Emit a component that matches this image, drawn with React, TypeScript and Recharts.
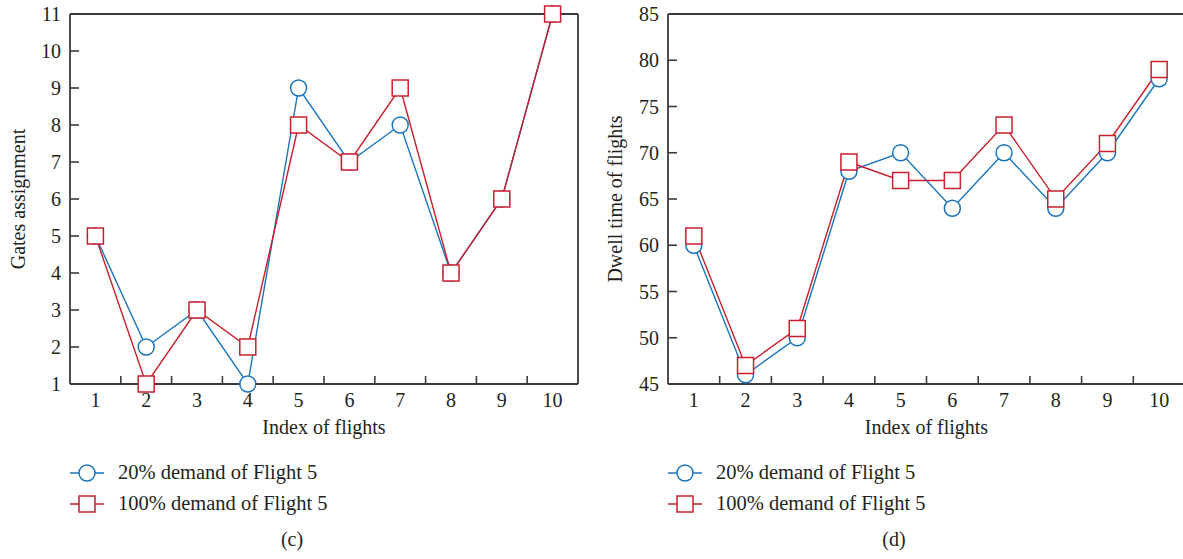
import { LineChart, Line, XAxis, YAxis, ReferenceLine, Legend } from 'recharts'

const flightIndex = [1, 2, 3, 4, 5, 6, 7, 8, 9, 10]
const gates20 = [5, 2, 3, 1, 9, 7, 8, 4, 6, 11]
const gates100 = [5, 1, 3, 2, 8, 7, 9, 4, 6, 11]
const dwell20 = [60, 46, 50, 68, 70, 64, 70, 64, 70, 78]
const dwell100 = [61, 47, 51, 69, 67, 67, 73, 65, 71, 79]
const gateTicks = [1, 2, 3, 4, 5, 6, 7, 8, 9, 10, 11]
const dwellTicks = [45, 50, 55, 60, 65, 70, 75, 80, 85]
const seriesNames = ['20% demand of Flight 5', '100% demand of Flight 5']

const FONT = '"Liberation Serif", "DejaVu Serif", serif'
const INK = '#231f20'
const AXIS = '#3a3a3a'
const BLUE = '#1a74bd'
const RED = '#c91f2e'

// labels sit on the flights, short inward ticks sit between them
const xTicks = [...flightIndex, ...flightIndex.slice(1).map((v) => v - 0.5)].sort((a, b) => a - b)

const FlightTick = (props: any) => {
  const { x, y, payload } = props
  if (Number.isInteger(payload.value)) {
    return (
      <text x={x} y={y} dy={23} textAnchor="middle" fill={INK} fontSize={20} fontFamily={FONT}>
        {payload.value}
      </text>
    )
  }
  return <line x1={x} x2={x} y1={y} y2={y - 8} stroke={AXIS} strokeWidth={1.6} />
}

const SquareDot = (props: any) => {
  const { cx, cy, index } = props
  return <rect key={`sq-${index}`} x={cx - 8} y={cy - 8} width={16} height={16} fill="#fff" stroke={RED} strokeWidth={1.5} />
}

const LegendContent = ({ payload }: any) => {
  const items = [...(payload || [])].sort((a: any, b: any) => seriesNames.indexOf(a.value) - seriesNames.indexOf(b.value))
  return (
    <div>
      {items.map((item: any) => (
        <div key={item.value} style={{ display: 'flex', alignItems: 'center', height: 31 }}>
          <svg width={34} height={20}>
            <line x1={0} x2={34} y1={10} y2={10} stroke={item.color} strokeWidth={1.4} />
            {item.type === 'square' ? (
              <rect x={9} y={2} width={16} height={16} fill="#fff" stroke={item.color} strokeWidth={1.5} />
            ) : (
              <circle cx={17} cy={10} r={8} fill="#fff" stroke={item.color} strokeWidth={1.5} />
            )}
          </svg>
          <span style={{ marginLeft: 14, fontSize: 20.5, fontFamily: FONT, color: INK, whiteSpace: 'nowrap' }}>
            {item.value}
          </span>
        </div>
      ))}
    </div>
  )
}

interface PanelProps {
  left: number
  width: number
  marginRight: number
  yAxisWidth: number
  yLabelOffset: number
  low: number[]
  full: number[]
  yTicks: number[]
  yLabel: string
  caption: string
  captionX: number
}

const Panel = (p: PanelProps) => {
  const data = flightIndex.map((idx, i) => ({ idx, low: p.low[i], full: p.full[i] }))
  const yDomain = [p.yTicks[0], p.yTicks[p.yTicks.length - 1]]
  return (
    <div style={{ position: 'absolute', left: p.left, top: 0, width: p.width, height: 559 }}>
      <LineChart width={p.width} height={444} data={data} margin={{ top: 14, right: p.marginRight, left: 0, bottom: 0 }}>
        <XAxis
          dataKey="idx"
          type="number"
          domain={[0.5, 10.5]}
          ticks={xTicks}
          interval={0}
          tickLine={false}
          tickSize={0}
          tickMargin={0}
          tick={<FlightTick />}
          height={60}
          axisLine={{ stroke: AXIS, strokeWidth: 1.8 }}
          label={{ value: 'Index of flights', position: 'insideBottom', offset: 10, fill: INK, fontSize: 20, fontFamily: FONT }}
        />
        <YAxis
          type="number"
          domain={yDomain}
          ticks={p.yTicks}
          interval={0}
          width={p.yAxisWidth}
          tickSize={-9}
          tickMargin={18}
          tick={{ fill: INK, fontSize: 20, fontFamily: FONT }}
          tickLine={{ stroke: AXIS, strokeWidth: 1.6 }}
          axisLine={{ stroke: AXIS, strokeWidth: 1.8 }}
          label={{
            value: p.yLabel,
            angle: -90,
            position: 'insideLeft',
            offset: p.yLabelOffset,
            fill: INK,
            fontSize: 20,
            fontFamily: FONT,
            style: { textAnchor: 'middle' },
          }}
        />
        <ReferenceLine y={yDomain[1]} stroke={AXIS} strokeWidth={1.8} />
        <ReferenceLine x={10.5} stroke={AXIS} strokeWidth={1.8} />
        <Line
          dataKey="low"
          name={seriesNames[0]}
          type="linear"
          stroke={BLUE}
          strokeWidth={1.4}
          legendType="circle"
          dot={{ r: 8, fill: '#fff', stroke: BLUE, strokeWidth: 1.5 }}
          isAnimationActive={false}
        />
        <Line
          dataKey="full"
          name={seriesNames[1]}
          type="linear"
          stroke={RED}
          strokeWidth={1.4}
          legendType="square"
          dot={<SquareDot />}
          isAnimationActive={false}
        />
        <Legend
          layout="vertical"
          align="center"
          verticalAlign="middle"
          content={<LegendContent />}
          wrapperStyle={{ position: 'absolute', left: p.yAxisWidth, top: 457, width: 'auto' }}
        />
      </LineChart>
      <div
        style={{
          position: 'absolute',
          left: p.captionX - 40,
          width: 80,
          top: 528,
          textAlign: 'center',
          fontSize: 20,
          fontFamily: FONT,
          color: INK,
        }}
      >
        {p.caption}
      </div>
    </div>
  )
}

export default function App() {
  return (
    <div style={{ position: 'absolute', left: 0, top: 0, width: 1183, height: 559, overflow: 'hidden', background: '#fff' }}>
      <Panel
        left={0}
        width={600}
        marginRight={22}
        yAxisWidth={70}
        yLabelOffset={18}
        low={gates20}
        full={gates100}
        yTicks={gateTicks}
        yLabel="Gates assignment"
        caption="(c)"
        captionX={292}
      />
      <Panel
        left={600}
        width={590}
        marginRight={5}
        yAxisWidth={68}
        yLabelOffset={15}
        low={dwell20}
        full={dwell100}
        yTicks={dwellTicks}
        yLabel="Dwell time of flights"
        caption="(d)"
        captionX={294}
      />
    </div>
  )
}
